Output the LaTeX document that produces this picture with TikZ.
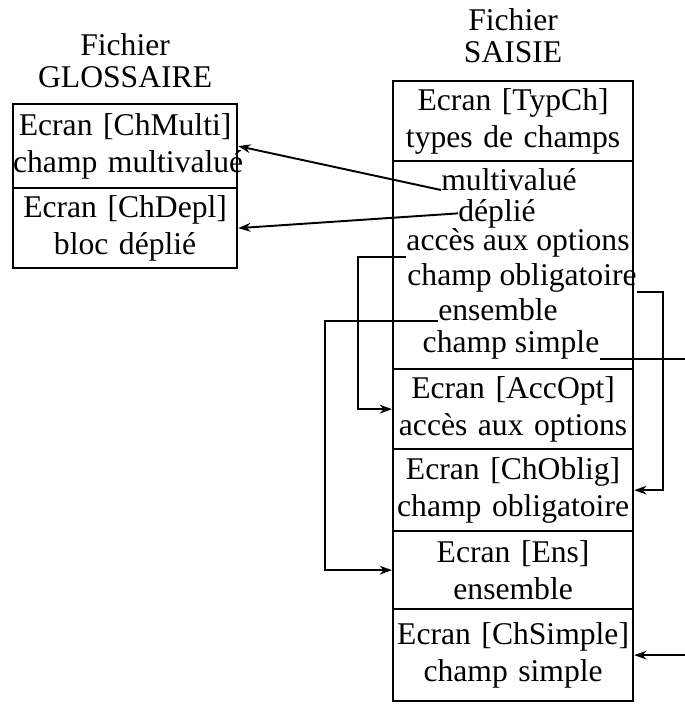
\documentclass[tikz,border=0pt]{standalone}
\usepackage{fontspec}
\setmainfont{Liberation Serif}
\usepackage{tikz}
\usetikzlibrary{arrows.meta,positioning}

\begin{document}
\begin{tikzpicture}[x=0.02cm,y=-0.02cm,
  ecran/.style={draw,line width=1.3pt,anchor=north west,inner sep=0pt,align=center,font=\fontsize{18}{21}\selectfont},
  item/.style={anchor=base,inner sep=0pt,font=\fontsize{18}{21}\selectfont},
  titre/.style={align=center,inner sep=0pt,font=\fontsize{18}{18}\selectfont},
  lien/.style={line width=1.1pt,-{Stealth[length=7pt,width=5pt]}}]
  \useasboundingbox (0,0) rectangle (684,704);

  % Fichier GLOSSAIRE
  \node[ecran,text width=4.48cm,minimum height=1.68cm] (chmulti) at (12,103) {Ecran [ChMulti]\\\mbox{champ multivalué}};
  \node[ecran,text width=4.48cm,minimum height=1.6cm] (chdepl) at (12,187) {Ecran [ChDepl]\\bloc déplié};
  \node[titre,above=0.3cm of chmulti] (glossaire) {Fichier\\GLOSSAIRE};

  % Fichier SAISIE
  \node[ecran,text width=4.8cm,minimum height=1.6cm] (typch) at (392,80) {Ecran [TypCh]\\types de champs};
  \node[ecran,text width=4.8cm,minimum height=4.16cm] (types) at (392,160) {};
  \node[ecran,text width=4.8cm,minimum height=1.6cm] (accopt) at (392,368) {Ecran [AccOpt]\\\mbox{accès aux options}};
  \node[ecran,text width=4.8cm,minimum height=1.64cm] (choblig) at (392,448) {Ecran [ChOblig]\\\mbox{champ obligatoire}};
  \node[ecran,text width=4.8cm,minimum height=1.56cm] (ens) at (392,530) {Ecran [Ens]\\ensemble};
  \node[ecran,text width=4.8cm,minimum height=1.84cm] (chsimple) at (392,608) {Ecran [ChSimple]\\champ simple};
  \node[titre,above=0.34cm of typch] (saisie) {Fichier\\SAISIE};

  % types de champs
  \node[item] (mv) at (509,190) {multivalué};
  \node[item] (dp) at (497,221) {déplié};
  \node[item] (ao) at (518,250) {accès aux options};
  \node[item] (co) at (522,285) {champ obligatoire};
  \node[item] (en) at (498,320) {ensemble};
  \node[item] (cs) at (511,352) {champ simple};

  % liens
  \draw[lien] (mv.base west) -- (chmulti.east);
  \draw[lien] (dp.west) -- (chdepl.east);
  \draw[lien] (ao.south west) -- ++(-48,0) |- (accopt.west);
  \draw[lien] (co.south east) -- ++(26,0) |- (choblig.east);
  \draw[lien] (en.south west) -- ++(-113,0) |- (ens.west);
  \draw[lien] (cs.south east) -- ++(120,0) |- (chsimple.east);
\end{tikzpicture}
\end{document}
